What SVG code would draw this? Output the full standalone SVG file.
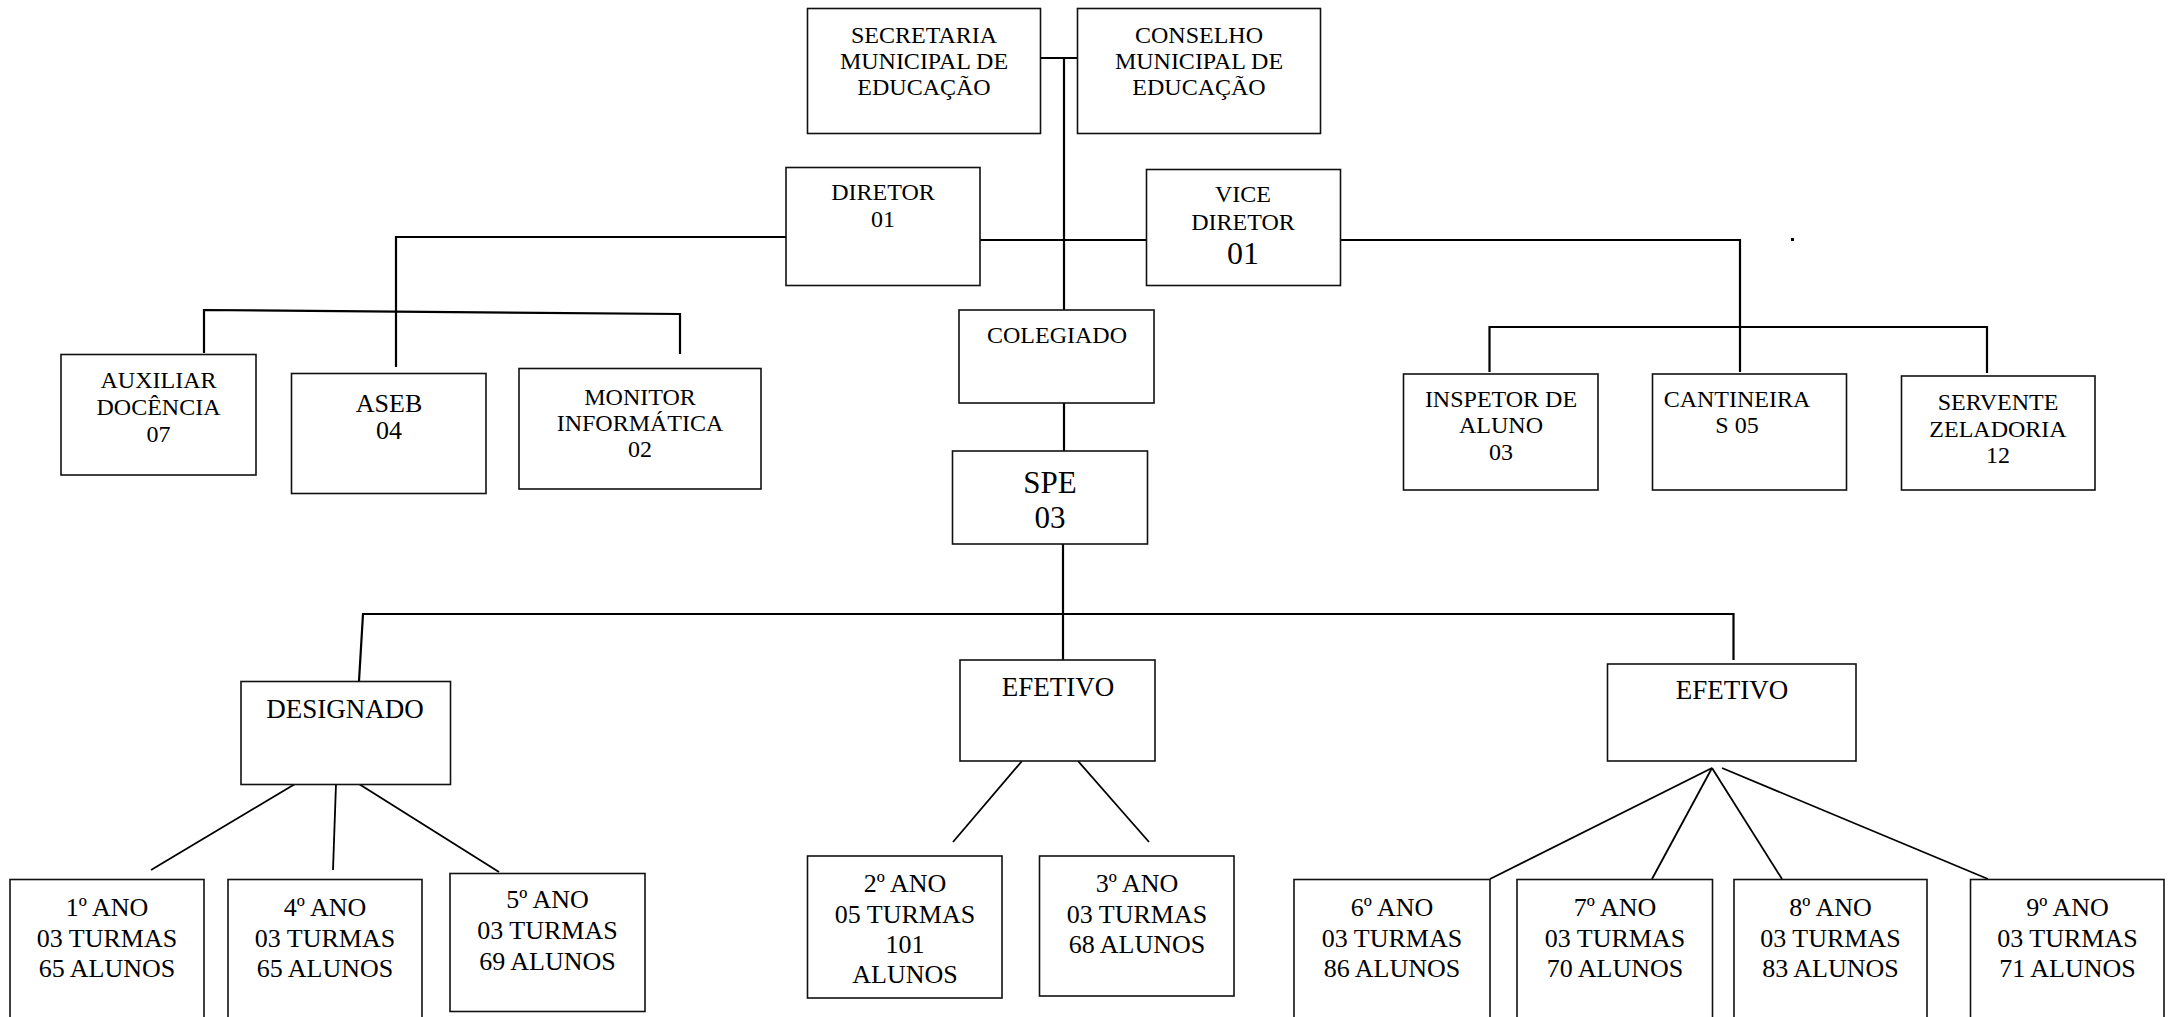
<svg xmlns="http://www.w3.org/2000/svg" width="2170" height="1017" viewBox="0 0 2170 1017">
<style>
  .box { fill: #fff; stroke: #111; stroke-width: 1.6; }
  .ln { fill: none; stroke: #000; stroke-width: 2.2; }
  .thin { fill: none; stroke: #000; stroke-width: 1.8; }
  text { font-family: "Liberation Serif", "Times New Roman", serif; fill: #000; text-anchor: middle; }
  .t24 { font-size: 24px; }
  .t26 { font-size: 26px; }
  .t27 { font-size: 27px; }
</style>
<rect width="2170" height="1017" fill="#fff"/>
<g id="connectors">
  <path class="ln" d="M1040,58 H1078"/>
  <path class="ln" d="M1064,58 V310"/>
  <path class="ln" d="M980,240 H1146"/>
  <path class="ln" d="M786,237 H396 V367"/>
  <path class="ln" d="M204,353 V310 L680,314 V354"/>
  <path class="ln" d="M1340,240 H1740 V372"/>
  <path class="ln" d="M1489.5,372 V327 H1987 V373"/>
  <path class="ln" d="M1064,403 V451"/>
  <path class="ln" d="M1063,544 V660"/>
  <path class="ln" d="M359,681 L363,614 H1733.5 V660"/>
  <path class="thin" d="M295,784 L151,870"/>
  <path class="thin" d="M336,784 L333,870"/>
  <path class="thin" d="M359,784 L499,872"/>
  <path class="thin" d="M1022,761 L953,842"/>
  <path class="thin" d="M1078,761 L1149,842"/>
  <path class="thin" d="M1712,768 L1490,879"/>
  <path class="thin" d="M1712,768 L1652,879"/>
  <path class="thin" d="M1712,768 L1782,879"/>
  <path class="thin" d="M1722,768 L1988,879"/>
  <rect x="1791" y="238" width="3" height="3" fill="#000"/>
</g>
<g id="secretaria">
  <rect class="box" x="807.5" y="8.5" width="233" height="125"/>
  <text class="t24" x="924" y="43">SECRETARIA</text>
  <text class="t24" x="924" y="69">MUNICIPAL DE</text>
  <text class="t24" x="924" y="95">EDUCAÇÃO</text>
</g>
<g id="conselho">
  <rect class="box" x="1077.5" y="8.5" width="243" height="125"/>
  <text class="t24" x="1199" y="43">CONSELHO</text>
  <text class="t24" x="1199" y="69">MUNICIPAL DE</text>
  <text class="t24" x="1199" y="95">EDUCAÇÃO</text>
</g>
<g id="diretor">
  <rect class="box" x="786" y="167.5" width="194" height="118"/>
  <text class="t24" x="883" y="200">DIRETOR</text>
  <text class="t24" x="883" y="227">01</text>
</g>
<g id="vice-diretor">
  <rect class="box" x="1146.5" y="169.5" width="194" height="116"/>
  <text class="t24" x="1243" y="202">VICE</text>
  <text class="t24" x="1243" y="230">DIRETOR</text>
  <text x="1243" y="264" style="font-size:32px">01</text>
</g>
<g id="colegiado">
  <rect class="box" x="959" y="310" width="195" height="93"/>
  <text class="t24" x="1057" y="343">COLEGIADO</text>
</g>
<g id="spe">
  <rect class="box" x="952.5" y="451" width="195" height="93"/>
  <text x="1050" y="493" style="font-size:31px">SPE</text>
  <text x="1050" y="528" style="font-size:31px">03</text>
</g>
<g id="auxiliar">
  <rect class="box" x="61" y="354.5" width="195" height="120.5"/>
  <text class="t24" x="158.5" y="388">AUXILIAR</text>
  <text class="t24" x="158.5" y="415">DOCÊNCIA</text>
  <text class="t24" x="158.5" y="442">07</text>
</g>
<g id="aseb">
  <rect class="box" x="291.5" y="373.5" width="194.5" height="120"/>
  <text class="t26" x="389" y="412">ASEB</text>
  <text class="t26" x="389" y="439">04</text>
</g>
<g id="monitor">
  <rect class="box" x="519" y="368.5" width="242" height="120.5"/>
  <text class="t24" x="640" y="405">MONITOR</text>
  <text class="t24" x="640" y="431">INFORMÁTICA</text>
  <text class="t24" x="640" y="457">02</text>
</g>
<g id="inspetor">
  <rect class="box" x="1403.5" y="374" width="194.5" height="116"/>
  <text class="t24" x="1501" y="407">INSPETOR DE</text>
  <text class="t24" x="1501" y="433">ALUNO</text>
  <text class="t24" x="1501" y="460">03</text>
</g>
<g id="cantineira">
  <rect class="box" x="1652.5" y="374" width="194" height="116"/>
  <text class="t24" x="1737" y="407">CANTINEIRA</text>
  <text class="t24" x="1737" y="433">S 05</text>
</g>
<g id="servente">
  <rect class="box" x="1901.5" y="376" width="193.5" height="114"/>
  <text class="t24" x="1998" y="410">SERVENTE</text>
  <text class="t24" x="1998" y="437">ZELADORIA</text>
  <text class="t24" x="1998" y="463">12</text>
</g>
<g id="designado">
  <rect class="box" x="241" y="681.5" width="209.5" height="103"/>
  <text class="t27" x="345" y="718">DESIGNADO</text>
</g>
<g id="efetivo-1">
  <rect class="box" x="960" y="660" width="195" height="101"/>
  <text class="t27" x="1058" y="696">EFETIVO</text>
</g>
<g id="efetivo-2">
  <rect class="box" x="1607.5" y="664" width="248.5" height="97"/>
  <text class="t27" x="1732" y="699">EFETIVO</text>
</g>
<g id="ano-1">
  <rect class="box" x="10" y="879.5" width="194" height="150"/>
  <text class="t26" x="107" y="916">1º ANO</text>
  <text class="t26" x="107" y="947">03 TURMAS</text>
  <text class="t26" x="107" y="977">65 ALUNOS</text>
</g>
<g id="ano-4">
  <rect class="box" x="228" y="879.5" width="194" height="150"/>
  <text class="t26" x="325" y="916">4º ANO</text>
  <text class="t26" x="325" y="947">03 TURMAS</text>
  <text class="t26" x="325" y="977">65 ALUNOS</text>
</g>
<g id="ano-5">
  <rect class="box" x="450" y="873.5" width="195" height="138"/>
  <text class="t26" x="547.5" y="908">5º ANO</text>
  <text class="t26" x="547.5" y="939">03 TURMAS</text>
  <text class="t26" x="547.5" y="970">69 ALUNOS</text>
</g>
<g id="ano-2">
  <rect class="box" x="807.5" y="856" width="194.5" height="142"/>
  <text class="t26" x="905" y="892">2º ANO</text>
  <text class="t26" x="905" y="923">05 TURMAS</text>
  <text class="t26" x="905" y="953">101</text>
  <text class="t26" x="905" y="983">ALUNOS</text>
</g>
<g id="ano-3">
  <rect class="box" x="1039.5" y="856" width="194.5" height="140"/>
  <text class="t26" x="1137" y="892">3º ANO</text>
  <text class="t26" x="1137" y="923">03 TURMAS</text>
  <text class="t26" x="1137" y="953">68 ALUNOS</text>
</g>
<g id="ano-6">
  <rect class="box" x="1294" y="879.5" width="196" height="150"/>
  <text class="t26" x="1392" y="916">6º ANO</text>
  <text class="t26" x="1392" y="947">03 TURMAS</text>
  <text class="t26" x="1392" y="977">86 ALUNOS</text>
</g>
<g id="ano-7">
  <rect class="box" x="1517" y="879.5" width="195.5" height="150"/>
  <text class="t26" x="1615" y="916">7º ANO</text>
  <text class="t26" x="1615" y="947">03 TURMAS</text>
  <text class="t26" x="1615" y="977">70 ALUNOS</text>
</g>
<g id="ano-8">
  <rect class="box" x="1734" y="879.5" width="193" height="150"/>
  <text class="t26" x="1830.5" y="916">8º ANO</text>
  <text class="t26" x="1830.5" y="947">03 TURMAS</text>
  <text class="t26" x="1830.5" y="977">83 ALUNOS</text>
</g>
<g id="ano-9">
  <rect class="box" x="1970.5" y="879.5" width="193.5" height="150"/>
  <text class="t26" x="2067.5" y="916">9º ANO</text>
  <text class="t26" x="2067.5" y="947">03 TURMAS</text>
  <text class="t26" x="2067.5" y="977">71 ALUNOS</text>
</g>
</svg>
